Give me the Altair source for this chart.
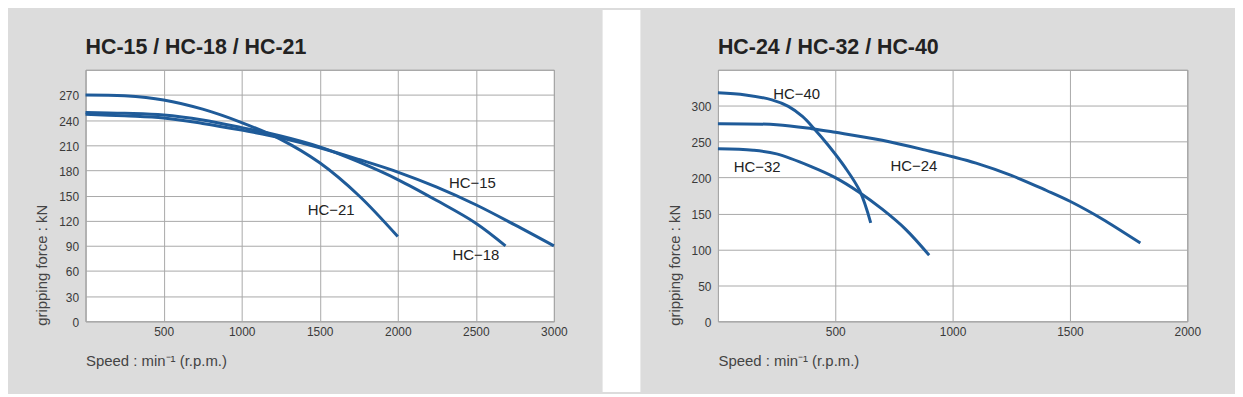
import altair as alt
import pandas as pd

# ---------------- data ----------------
# Left panel: HC-15 / HC-18 / HC-21
hc15_rpm = [0, 250, 500, 750, 1000, 1250, 1500, 1750, 2000, 2250, 2500, 2750, 3000]
hc15_kn = [247, 245, 242.5, 236, 228, 219, 207, 193, 178, 160, 139, 115, 90]
hc18_rpm = [0, 250, 500, 750, 1000, 1250, 1500, 1750, 2000, 2250, 2500, 2690]
hc18_kn = [249, 248, 246, 240, 231, 221, 208, 190, 169, 144, 117, 90]
hc21_rpm = [0, 250, 500, 750, 1000, 1250, 1500, 1750, 2000]
hc21_kn = [270, 269, 264, 253, 237, 217, 189, 150, 101]

left_label_text = ["HC\u221215", "HC\u221218", "HC\u221221"]
left_label_rpm = [2478, 2500, 1573]
left_label_kn = [165, 79, 133]

# Right panel: HC-24 / HC-32 / HC-40
hc24_rpm = [0, 250, 400, 500, 700, 900, 1000, 1100, 1250, 1400, 1500, 1650, 1800]
hc24_kn = [275, 273.5, 268, 263, 252, 237, 229, 220, 203, 182, 167, 140, 109]
hc32_rpm = [0, 150, 250, 400, 500, 600, 700, 800, 900]
hc32_kn = [240, 238, 233, 215, 200, 180, 156, 128, 92]
hc40_rpm = [0, 117, 230, 300, 360, 407, 470, 541, 605, 651]
hc40_kn = [318, 315, 308, 299, 285, 269, 245, 214.5, 181, 137]

right_label_text = ["HC\u221240", "HC\u221232", "HC\u221224"]
right_label_rpm = [335, 167, 835]
right_label_kn = [316, 214, 216]

left_title = "HC-15 / HC-18 / HC-21"
right_title = "HC-24 / HC-32 / HC-40"
x_title = "Speed : min\u207b\u00b9 (r.p.m.)"
y_title = "gripping force : kN"

left_xticks = [0, 500, 1000, 1500, 2000, 2500, 3000]
left_yticks = [0, 30, 60, 90, 120, 150, 180, 210, 240, 270]
right_xticks = [0, 500, 1000, 1500, 2000]
right_yticks = [0, 50, 100, 150, 200, 250, 300]

# ---------------- styling ----------------
BLUE = "#1f5b99"
FONT = "Liberation Sans"
GRAY_BG = "#dcdcdc"
H = 253


def series_df(pairs):
    rows = []
    for name, xs, ys in pairs:
        for a, b in zip(xs, ys):
            rows.append({"model": name, "rpm": a, "force": b})
    return pd.DataFrame(rows)


def panel(df, lab_df, title, xmax, xticks, ymax, yticks, w, gap=False):
    x_axis = alt.Axis(values=xticks, grid=True, gridColor="#a8a8a8", gridWidth=1,
                      ticks=False, domain=False, labelFlush=False, labelOverlap=False,
                      format="d",
                      labelExpr="datum.value == 0 ? '' : datum.label",
                      labelPadding=5, labelFontSize=12, labelColor="#3a3a3a", labelFont=FONT,
                      title=x_title, titleFont=FONT, titleFontSize=15, titleFontWeight="normal",
                      titleColor="#444444", titleAnchor="start", titleAlign="left",
                      titleBaseline="alphabetic", titleX=0, titleY=44)
    y_axis = alt.Axis(values=yticks, grid=True, gridColor="#a8a8a8", gridWidth=1,
                      ticks=False, domain=False, labelOverlap=False, format="d",
                      labelPadding=7, labelFontSize=12, labelColor="#3a3a3a", labelFont=FONT,
                      labelOffset=1,
                      title=y_title, titleFont=FONT, titleFontSize=15, titleFontWeight="normal",
                      titleColor="#444444", titleAnchor="start", titleAlign="left",
                      titleBaseline="alphabetic", titleAngle=-90, titleX=-39, titleY=H + 4)
    xs = alt.Scale(domain=[0, xmax], nice=False, zero=True)
    ys = alt.Scale(domain=[0, ymax], nice=False, zero=True)
    X = alt.X("rpm:Q", scale=xs, axis=x_axis)
    Y = alt.Y("force:Q", scale=ys, axis=y_axis)

    lines = alt.Chart(df).mark_line(interpolate="catmull-rom", color=BLUE, strokeWidth=3,
                                    strokeCap="butt").encode(x=X, y=Y, detail="model:N")
    labels = alt.Chart(lab_df).mark_text(font=FONT, fontSize=15, color="#222222",
                                         align="center", baseline="middle").encode(
        x=X, y=Y, text="label:N")
    one = pd.DataFrame({"t": [title]})
    title_mark = alt.Chart(one).mark_text(font=FONT, fontSize=21.5, fontWeight="bold",
                                          color="#222222", align="left",
                                          baseline="alphabetic").encode(
        x=alt.value(0), y=alt.value(-16), text="t:N")
    layers = []
    if gap:
        white_gap = alt.Chart(one).mark_rect(color="white").encode(
            x=alt.value(-116), x2=alt.value(-78), y=alt.value(-60), y2=alt.value(H + 71))
        layers.append(white_gap)
    else:
        tl = alt.Chart(one).mark_rect(color=GRAY_BG).encode(
            x=alt.value(-77), x2=alt.value(-76), y=alt.value(-60), y2=alt.value(-59))
        layers.append(tl)
    br = alt.Chart(one).mark_rect(color=GRAY_BG).encode(
        x=alt.value(w + 46), x2=alt.value(w + 47), y=alt.value(H + 70), y2=alt.value(H + 71))
    layers.append(br)
    return alt.layer(lines, labels, title_mark, *layers).properties(width=w, height=H)


left_df = series_df([("HC-15", hc15_rpm, hc15_kn), ("HC-18", hc18_rpm, hc18_kn),
                     ("HC-21", hc21_rpm, hc21_kn)])
right_df = series_df([("HC-24", hc24_rpm, hc24_kn), ("HC-32", hc32_rpm, hc32_kn),
                      ("HC-40", hc40_rpm, hc40_kn)])
left_lab = pd.DataFrame({"label": left_label_text, "rpm": left_label_rpm, "force": left_label_kn})
right_lab = pd.DataFrame({"label": right_label_text, "rpm": right_label_rpm, "force": right_label_kn})

left = panel(left_df, left_lab, left_title, 3000, left_xticks, 300, left_yticks, 471)
right = panel(right_df, right_lab, right_title, 2000, right_xticks, 350, right_yticks, 472, gap=True)

chart = alt.hconcat(left, right, spacing=0).properties(
    background=GRAY_BG, padding=0
).configure_view(fill="white", stroke="#8c8c8c", strokeWidth=1)

chart.save("out.html", embed_options={"renderer": "svg", "actions": False})
